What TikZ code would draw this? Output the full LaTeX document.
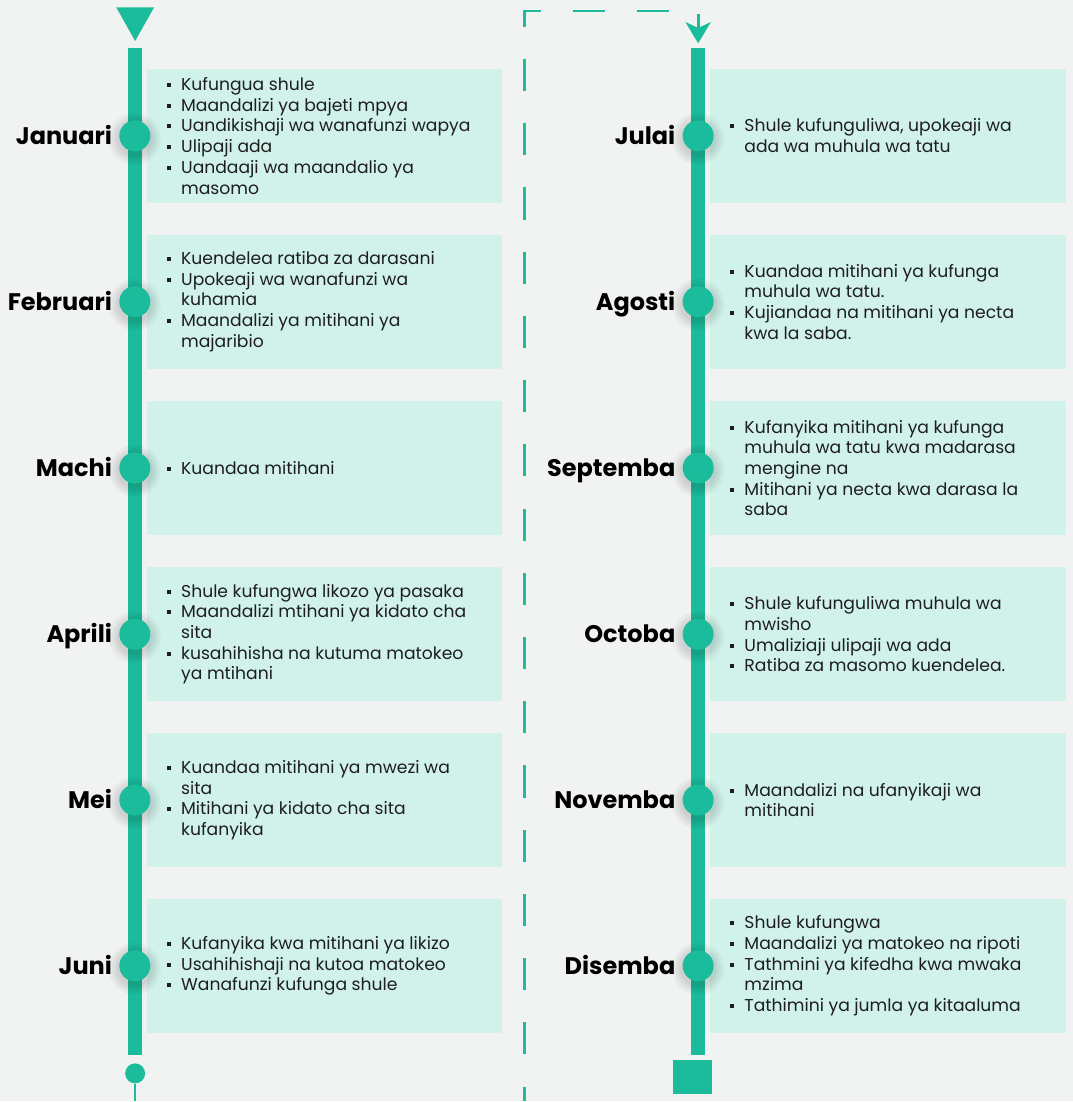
\documentclass[tikz,border=0pt]{standalone}
\usepackage{fontspec}
\setmainfont{Poppins}
\usetikzlibrary{arrows.meta, positioning}

\definecolor{tealbar}{HTML}{1ABC9C}
\definecolor{boxfill}{HTML}{D1F2EA}
\definecolor{pagebg}{HTML}{F1F3F2}
\definecolor{bodytext}{HTML}{1E1E1E}

\newcommand{\bul}{\makebox[14.5pt][l]{\rule[3.5pt]{4pt}{4pt}}}
\newcommand{\cont}{\hspace*{14.5pt}}

\tikzset{
    infobox/.style={fill=boxfill, minimum width=356pt, minimum height=134pt, inner sep=0pt, anchor=west},
    infotext/.style={align=left, text=bodytext, inner sep=0pt, font=\fontsize{17.2}{20.7}\selectfont},
    dot/.style={circle, fill=tealbar, minimum size=31pt, inner sep=0pt},
    glow/.style={circle, fill=black, fill opacity=0.035, inner sep=0pt},
    month/.style={inner sep=0pt, text height=17pt, text depth=0pt, font=\bfseries\fontsize{24}{24}\selectfont},
    loopline/.style={tealbar, line width=2.7pt, dash pattern=on 32.15pt off 32.15pt, dash phase=18pt}
}

% one month: name, bar x, row y, month, items
\newcommand{\monthentry}[5]{
    \node[infobox] (#1box) at (#2+11.7, #3) {};
    \foreach \s in {26, 23, 20.5, 18}
        \node[glow, minimum size=2*\s pt] at (#2, #3+3) {};
    \node[dot] (#1dot) at (#2, #3) {};
    \node[month, left=7pt of #1dot] (#1lbl) {#4};
    \node[infotext, right=20pt of #1box.west] (#1txt) {#5};
}

\begin{document}
\begin{tikzpicture}[x=1pt, y=-1pt]
    \fill[pagebg] (0, 0) rectangle (1074, 1102);

    % left timeline
    \coordinate (ltop) at (135, 48.3);
    \coordinate (lbot) at (135, 1056.7);
    \fill[tealbar] (116.4, 7.4) -- (154.3, 7.4) -- (135.3, 41) -- cycle;
    \draw[tealbar, line width=13.5pt] (ltop) -- (lbot);
    \node[circle, fill=tealbar, minimum size=20pt, inner sep=0pt] (lend) at (135.3, 1074.7) {};
    \draw[tealbar, line width=2.7pt] (lend.south) -- (135.3, 1102);

    % right timeline
    \coordinate (rtop) at (699, 48.3);
    \coordinate (rbot) at (699, 1056.7);
    \draw[tealbar, line width=14pt] (rtop) -- (rbot);
    \node[fill=tealbar, minimum width=39pt, minimum height=34pt, inner sep=0pt] (rend) at (693.5, 1078) {};

    % dashed jump from left to right
    \coordinate (loopstart) at (525, 1102);
    \coordinate (loopover) at (699.3, 11);
    \coordinate (looptip) at ([yshift=5pt]rtop);
    \draw[loopline] (loopstart) |- (loopover) -- ++(0, 18);
    \fill[tealbar] (looptip) -- ++(-12.8, -21.3) -- ++(12.8, 6) -- ++(12.8, -6) -- cycle;

    \monthentry{jan}{135}{136}{Januari}{\bul Kufungua shule\\ \bul Maandalizi ya bajeti mpya\\ \bul Uandikishaji wa wanafunzi wapya\\ \bul Ulipaji ada\\ \bul Uandaaji wa maandalio ya\\ \cont masomo}
    \monthentry{feb}{135}{302}{Februari}{\bul Kuendelea ratiba za darasani\\ \bul Upokeaji wa wanafunzi wa\\ \cont kuhamia\\ \bul Maandalizi ya mitihani ya\\ \cont majaribio}
    \monthentry{mar}{135}{468.5}{Machi}{\bul Kuandaa mitihani}
    \monthentry{apr}{135}{635}{Aprili}{\bul Shule kufungwa likozo ya pasaka\\ \bul Maandalizi mtihani ya kidato cha\\ \cont sita\\ \bul kusahihisha na kutuma matokeo\\ \cont ya mtihani}
    \monthentry{may}{135}{801}{Mei}{\bul Kuandaa mitihani ya mwezi wa\\ \cont sita\\ \bul Mitihani ya kidato cha sita\\ \cont kufanyika}
    \monthentry{jun}{135}{967}{Juni}{\bul Kufanyika kwa mitihani ya likizo\\ \bul Usahihishaji na kutoa matokeo\\ \bul Wanafunzi kufunga shule}

    \monthentry{jul}{699}{136}{Julai}{\bul Shule kufunguliwa, upokeaji wa\\ \cont ada wa muhula wa tatu}
    \monthentry{aug}{699}{302}{Agosti}{\bul Kuandaa mitihani ya kufunga\\ \cont muhula wa tatu.\\ \bul Kujiandaa na mitihani ya necta\\ \cont kwa la saba.}
    \monthentry{sep}{699}{468.5}{Septemba}{\bul Kufanyika mitihani ya kufunga\\ \cont muhula wa tatu kwa madarasa\\ \cont mengine na\\ \bul Mitihani ya necta kwa darasa la\\ \cont saba}
    \monthentry{oct}{699}{635}{Octoba}{\bul Shule kufunguliwa muhula wa\\ \cont mwisho\\ \bul Umaliziaji ulipaji wa ada\\ \bul Ratiba za masomo kuendelea.}
    \monthentry{nov}{699}{801}{Novemba}{\bul Maandalizi na ufanyikaji wa\\ \cont mitihani}
    \monthentry{dec}{699}{967}{Disemba}{\bul Shule kufungwa\\ \bul Maandalizi ya matokeo na ripoti\\ \bul Tathmini ya kifedha kwa mwaka\\ \cont mzima\\ \bul Tathimini ya jumla ya kitaaluma}
\end{tikzpicture}
\end{document}
